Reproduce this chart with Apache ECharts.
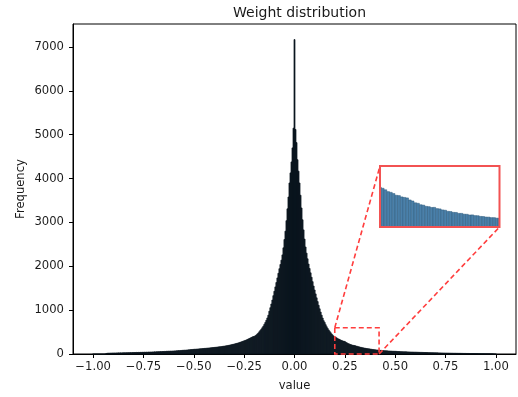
<!DOCTYPE html>
<html><head><meta charset="utf-8">
<script src="https://cdn.jsdelivr.net/npm/echarts@6/dist/echarts.min.js"></script>
<style>html,body{margin:0;padding:0;background:#fff}#c{width:518px;height:397px}</style>
</head><body><div id="c"></div>
<script>
const chartTitle = 'Weight distribution';
const xName = 'value';
const yName = 'Frequency';
const binStart = -1.0025;
const binWidth = 0.005;
// counts for bins centred at -1.000 ... -0.505
const countsA = [
  0,0,0,0,0,0,0,0,0,0,
  0,0,1,9,16,19,18,21,20,23,
  22,24,21,25,23,26,24,27,25,26,
  27,29,26,30,28,31,29,32,30,33,
  32,34,33,36,34,37,35,38,37,39,
  38,41,39,42,40,44,43,45,44,47,
  46,49,48,51,50,53,52,55,54,57,
  57,59,58,62,61,64,63,66,65,68,
  68,71,70,74,73,77,76,80,81,84,
  85,88,87,91,92,96,95,100,101,104
];
// -0.500 ... -0.005
const countsB = [
  106,109,108,112,113,116,117,120,121,124,
  125,129,128,133,134,137,139,142,144,147,
  148,152,153,157,160,163,165,168,171,175,
  178,182,186,190,194,199,204,209,214,220,
  225,231,238,244,251,259,266,275,283,291,
  300,309,318,328,340,351,362,374,386,398,
  398,415,432,455,478,506,535,565,598,632,
  675,718,768,822,885,975,1055,1140,1230,1330,
  1430,1530,1630,1735,1840,1945,2040,2140,2260,2420,
  2610,2800,3040,3310,3580,3900,4130,4380,4700,5150
];
// 0.000 ... 0.495
const countsC = [
  7170,5120,4820,4430,4170,3900,3620,3330,3060,2830,
  2620,2440,2300,2170,2050,1950,1850,1750,1650,1550,
  1460,1370,1280,1195,1110,1030,955,885,820,760,
  720,668,622,582,548,515,484,456,430,405,
  390,381,366,348,341,329,312,309,296,291,
  286,266,256,238,233,219,215,203,200,192,
  193,181,178,168,165,154,152,144,143,134,
  134,126,125,118,119,112,111,104,103,98,
  97,92,92,87,86,82,82,78,78,75,
  75,72,72,69,69,66,66,63,63,61
];
// 0.500 ... 1.000
const countsD = [
  61,60,58,57,56,54,53,52,50,49,
  50,49,48,47,46,45,44,44,43,42,
  42,41,40,39,38,37,37,36,35,34,
  34,33,32,31,31,30,29,29,28,27,
  27,26,26,25,24,24,23,23,22,22,
  21,21,20,20,19,19,18,18,17,17,
  17,16,16,15,15,15,14,14,13,13,
  13,12,12,12,11,11,11,10,10,10,
  9,9,9,8,8,8,7,7,7,6,
  6,6,5,5,5,4,4,3,2,1,
  0
];
const xTicks = [-1, -0.75, -0.5, -0.25, 0, 0.25, 0.5, 0.75, 1];
const yTicks = [0, 1000, 2000, 3000, 4000, 5000, 6000, 7000];
const xRange = [-1.1, 1.1];
const yRange = [0, 7525];
const zoomX = [0.2, 0.42];
const zoomY = [0, 600];

const counts = countsA.concat(countsB, countsC, countsD);
const bins = counts.map((c, i) => [binStart + i * binWidth, binStart + (i + 1) * binWidth, c]);
const insetBins = bins.filter(b => b[1] > zoomX[0] && b[0] < zoomX[1]);

const FONT = 'DejaVu Sans';
const TXT = '#1a1a1a';

function makeRender(fill, stroke, lw) {
  return function (params, api) {
    const p0 = api.coord([api.value(0), api.value(2)]);
    const p1 = api.coord([api.value(1), 0]);
    return {
      type: 'rect',
      shape: { x: p0[0], y: p0[1], width: p1[0] - p0[0], height: p1[1] - p0[1] },
      style: { fill: fill, stroke: stroke, lineWidth: lw }
    };
  };
}

const fmtX = v => (v < 0 ? '\u2212' : '') + Math.abs(v).toFixed(2);
const fmtY = v => String(v);

const chart = echarts.init(document.getElementById('c'), null, { renderer: 'canvas' });
chart.setOption({
  animation: false,
  backgroundColor: '#fff',
  title: {
    text: chartTitle, left: 294.5, top: 1, textAlign: 'center',
    textStyle: { fontFamily: FONT, fontSize: 14, fontWeight: 'normal', color: TXT }
  },
  grid: [
    { left: 73, top: 24, width: 443, height: 330, show: true, borderColor: '#000', borderWidth: 1, backgroundColor: '#fff' },
    { left: 380, top: 166, width: 119.5, height: 61, show: true, borderWidth: 0, backgroundColor: '#fff' }
  ],
  xAxis: [
    {
      type: 'value', gridIndex: 0, min: xRange[0], max: xRange[1],
      name: xName, nameLocation: 'middle', nameGap: 26, nameMoveOverlap: false,
      nameTextStyle: { fontFamily: FONT, fontSize: 11.6, color: TXT },
      axisLine: { show: true, onZero: false, lineStyle: { color: '#000', width: 1 } },
      axisTick: { show: true, length: 4, customValues: xTicks, lineStyle: { color: '#000', width: 1 } },
      axisLabel: { customValues: xTicks, formatter: fmtX, margin: 7, fontFamily: FONT, fontSize: 11.6, color: TXT },
      splitLine: { show: false }
    },
    { type: 'value', gridIndex: 1, min: zoomX[0], max: zoomX[1], show: false }
  ],
  yAxis: [
    {
      type: 'value', gridIndex: 0, min: yRange[0], max: yRange[1],
      name: yName, nameLocation: 'middle', nameGap: 46, nameRotate: 90, nameMoveOverlap: false,
      nameTextStyle: { fontFamily: FONT, fontSize: 11.6, color: TXT },
      axisLine: { show: true, onZero: false, lineStyle: { color: '#000', width: 1 } },
      axisTick: { show: true, length: 4, customValues: yTicks, lineStyle: { color: '#000', width: 1 } },
      axisLabel: { customValues: yTicks, formatter: fmtY, margin: 9, fontFamily: FONT, fontSize: 11.6, color: TXT },
      splitLine: { show: false }
    },
    { type: 'value', gridIndex: 1, min: zoomY[0], max: zoomY[1], show: false }
  ],
  series: [
    {
      type: 'custom', xAxisIndex: 0, yAxisIndex: 0, silent: true,
      renderItem: makeRender('#0c1822', '#0a141c', 0.7),
      encode: { x: [0, 1], y: 2 }, data: bins
    },
    {
      type: 'custom', xAxisIndex: 1, yAxisIndex: 1, silent: true, clip: true,
      renderItem: makeRender('#4a80aa', '#2f5a7c', 0.5),
      encode: { x: [0, 1], y: 2 }, data: insetBins
    }
  ]
});

const a = chart.convertToPixel({ gridIndex: 0 }, [zoomX[0], zoomY[1]]);
const b = chart.convertToPixel({ gridIndex: 0 }, [zoomX[1], zoomY[0]]);
const c = chart.convertToPixel({ gridIndex: 1 }, [zoomX[0], zoomY[1]]);
const d = chart.convertToPixel({ gridIndex: 1 }, [zoomX[1], zoomY[0]]);
const RED = '#ff3d3d';
const dash = { stroke: RED, lineWidth: 1.6, lineDash: [5, 3], fill: null };
chart.setOption({
  graphic: [
    { type: 'rect', z: 100, shape: { x: a[0], y: a[1], width: b[0] - a[0], height: b[1] - a[1] }, style: dash },
    { type: 'line', z: 100, shape: { x1: a[0], y1: a[1], x2: c[0], y2: c[1] }, style: dash },
    { type: 'line', z: 100, shape: { x1: b[0], y1: b[1], x2: d[0], y2: d[1] }, style: dash },
    { type: 'rect', z: 101, shape: { x: c[0], y: c[1], width: d[0] - c[0], height: d[1] - c[1] },
      style: { stroke: '#f25252', lineWidth: 2, fill: null } }
  ]
});
</script>
</body></html>
